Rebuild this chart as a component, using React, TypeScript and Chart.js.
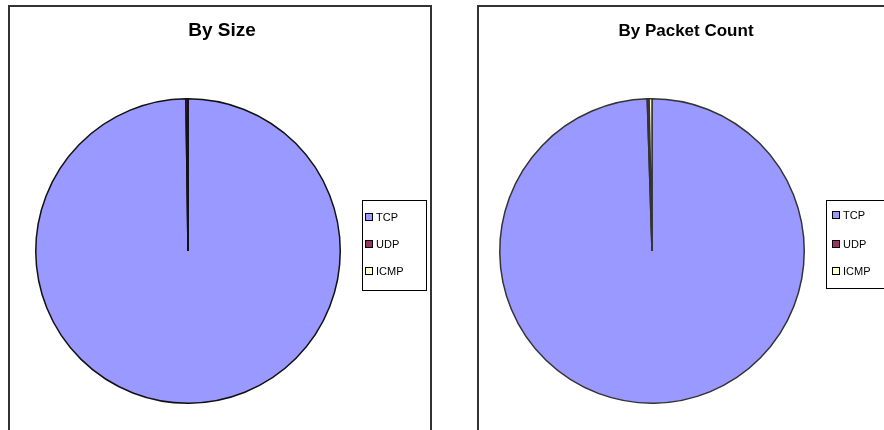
import React, { useEffect, useRef } from "react";
import { Chart, registerables } from "chart.js";

Chart.register(...registerables);

// ---- data ----
const protocols = ["TCP", "UDP", "ICMP"];
const sizeShares = [99.78, 0.2, 0.02];
const packetShares = [99.5, 0.2, 0.3];
const chartTitles = ["By Size", "By Packet Count"];
const sliceColors = ["#9999FF", "#993366", "#FFFFCC"];

type PanelProps = {
  title: string;
  values: number[];
  left: number;
  padding: { left: number; right: number; top: number; bottom: number };
  titleFont: string;
  titleX: number;
  legend: { x: number; y: number; w: number; h: number; sq: number; sqX: number; textX: number; ys: number[] };
  edge: string;
};

const W = 420;
const H = 423;

function PiePanel(p: PanelProps) {
  const ref = useRef<HTMLCanvasElement | null>(null);
  useEffect(() => {
    if (!ref.current) return;
    const decor = {
      id: "decor",
      afterDraw(chart: any) {
        const ctx = chart.ctx as CanvasRenderingContext2D;
        ctx.save();
        ctx.fillStyle = "#000";
        ctx.font = p.titleFont;
        ctx.textAlign = "center";
        ctx.textBaseline = "middle";
        ctx.fillText(p.title, p.titleX, 24);
        const L = p.legend;
        ctx.strokeStyle = "#000";
        ctx.lineWidth = 1;
        ctx.strokeRect(L.x + 0.5, L.y + 0.5, L.w, L.h);
        ctx.font = "11px 'Liberation Sans', Arial, sans-serif";
        ctx.textAlign = "left";
        const labels = chart.data.labels as string[];
        labels.forEach((lab, i) => {
          const y = L.ys[i];
          ctx.fillStyle = sliceColors[i];
          ctx.fillRect(L.sqX, y - L.sq / 2, L.sq, L.sq);
          ctx.strokeStyle = "#000";
          ctx.strokeRect(L.sqX + 0.5, y - L.sq / 2 + 0.5, L.sq - 1, L.sq - 1);
          ctx.fillStyle = "#000";
          ctx.fillText(lab, L.textX, y + 1);
        });
        ctx.restore();
      },
    };
    const chart = new Chart(ref.current, {
      type: "pie",
      data: {
        labels: protocols,
        datasets: [
          {
            data: p.values,
            backgroundColor: sliceColors,
            borderColor: p.edge,
            borderWidth: 1.5,
          },
        ],
      },
      options: {
        responsive: false,
        animation: false,
        devicePixelRatio: 1,
        events: [],
        layout: { padding: p.padding },
        plugins: {
          legend: { display: false },
          tooltip: { enabled: false },
          title: { display: false },
        },
      },
      plugins: [decor],
    });
    return () => chart.destroy();
  }, []);
  return (
    <div
      style={{
        position: "absolute",
        left: p.left,
        top: 5,
        width: 424,
        height: 440,
        boxSizing: "border-box",
        border: "2px solid #333",
        background: "#fff",
      }}
    >
      <canvas ref={ref} width={W} height={H} style={{ display: "block", width: W, height: H }} />
    </div>
  );
}

export default function App() {
  return (
    <div
      style={{
        position: "absolute",
        left: 0,
        top: 0,
        width: 884,
        height: 430,
        overflow: "hidden",
        background: "#fff",
      }}
    >
      <PiePanel
        title={chartTitles[0]}
        values={sizeShares}
        left={8}
        padding={{ left: 25, right: 89, top: 91, bottom: 26 }}
        titleFont="bold 19px 'Liberation Sans', Arial, sans-serif"
        titleX={212}
        legend={{ x: 352, y: 193, w: 64, h: 90, sq: 8, sqX: 355, textX: 366, ys: [210, 237, 264] }}
        edge="#111"
      />
      <PiePanel
        title={chartTitles[1]}
        values={packetShares}
        left={477}
        padding={{ left: 20, right: 94, top: 91, bottom: 26 }}
        titleFont="bold 17px 'Liberation Sans', Arial, sans-serif"
        titleX={207}
        legend={{ x: 347, y: 193, w: 64, h: 88, sq: 8, sqX: 353, textX: 364, ys: [208, 237, 264] }}
        edge="#333"
      />
    </div>
  );
}
